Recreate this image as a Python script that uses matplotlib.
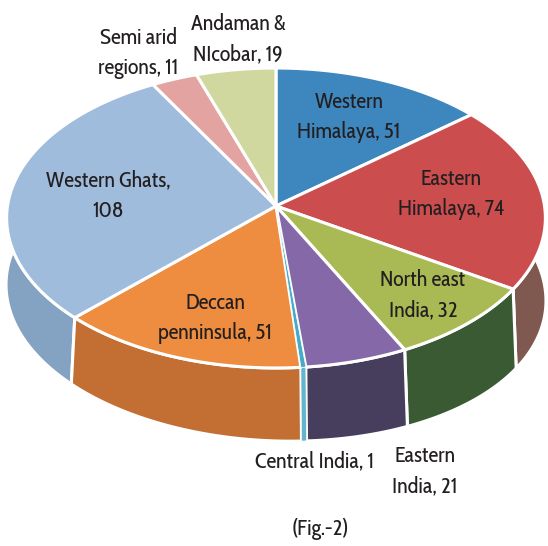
import numpy as np
import matplotlib
matplotlib.use("Agg")
import matplotlib.pyplot as plt
from matplotlib.patches import Polygon
from matplotlib import font_manager as fm

categories = ["Western Himalaya", "Eastern Himalaya", "North east India", "Eastern India",
              "Central India", "Deccan penninsula", "Western Ghats", "Semi arid regions",
              "Andaman & NIcobar"]
values = [51, 74, 32, 21, 1, 51, 108, 11, 19]
top_colors = ["#3E87BE", "#CB4D4E", "#A9BA55", "#8468A8", "#45ABC6", "#EE8D40", "#9FBCDC", "#E3A4A1", "#D0D8A0"]
wall_colors = ["#2F6690", "#7F584F", "#3A5A34", "#463E5C", "#63B4CC", "#C36E33", "#84A2C1", "#B58583", "#A5AC7F"]
labels = ["Western\nHimalaya, 51", "Eastern\nHimalaya, 74", "North east\nIndia, 32", "Eastern\nIndia, 21",
          "Central India, 1", "Deccan\npenninsula, 51", "Western Ghats,\n108", "Semi arid\nregions, 11",
          "Andaman &\nNIcobar, 19"]
label_xy = [(349, 117), (451, 194), (423, 295), (425, 471), (314, 461), (215, 318), (108, 196), (138, 53), (238, 39)]
caption = "(Fig.-2)"

avail = {f.name for f in fm.fontManager.ttflist}
font = "Cabin Condensed" if "Cabin Condensed" in avail else "Lato"
fsize = 15.8 if font == "Cabin Condensed" else 13
plt.rcParams["font.family"] = [font, "DejaVu Sans"]

W, H = 548, 546
fig = plt.figure(figsize=(W / 100, H / 100), dpi=100)
ax = fig.add_axes([0, 0, 1, 1])
ax.set_xlim(0, W)
ax.set_ylim(H, 0)
ax.axis("off")

CX, CY = 276, 206
A, B, K = 268.5, 149, 0.08


def rim(theta):
    x, y = np.sin(theta), np.cos(theta)
    w = 1 + K * y
    return CX + A * x / w, CY - B * y / w


def bottom(theta):
    X, Y = rim(theta)
    c = np.cos(theta)
    return X - 0.024 * (X - CX) * c, Y + 71 + 0.03 * (X - CX) - 2 * c


edges = np.cumsum([0] + values) / sum(values) * 2 * np.pi

order = sorted(range(len(values)), key=lambda i: -np.cos((edges[i] + edges[i + 1]) / 2))
for i in order:
    t = np.linspace(edges[i], edges[i + 1], 120)
    vis = np.cos(t) < 0.25
    if not vis.any():
        continue
    t = t[vis]
    xt, yt = rim(t)
    xb, yb = bottom(t)
    pts = np.r_[np.c_[xt, yt], np.c_[xb, yb][::-1]]
    lw = 2.2 if values[i] > 2 else 0.5
    ax.add_patch(Polygon(pts, closed=True, facecolor=wall_colors[i], edgecolor="white", lw=lw, joinstyle="round", zorder=2 if values[i] > 2 else 2.5))

for i in range(len(values)):
    t = np.linspace(edges[i], edges[i + 1], 120)
    xt, yt = rim(t)
    pts = np.r_[[[CX, CY]], np.c_[xt, yt]]
    lw = 2.2 if values[i] > 2 else 0.5
    ax.add_patch(Polygon(pts, closed=True, facecolor=top_colors[i], edgecolor="white", lw=lw, joinstyle="round", zorder=3 if values[i] > 2 else 3.5))

for (x, y), s in zip(label_xy, labels):
    ax.text(x, y, s, ha="center", va="center", fontsize=fsize, color="#231F20", linespacing=1.48, zorder=5)
ax.text(320, 529, caption, ha="center", va="center", fontsize=fsize, color="#231F20")

fig.savefig("out.png", dpi=100)
